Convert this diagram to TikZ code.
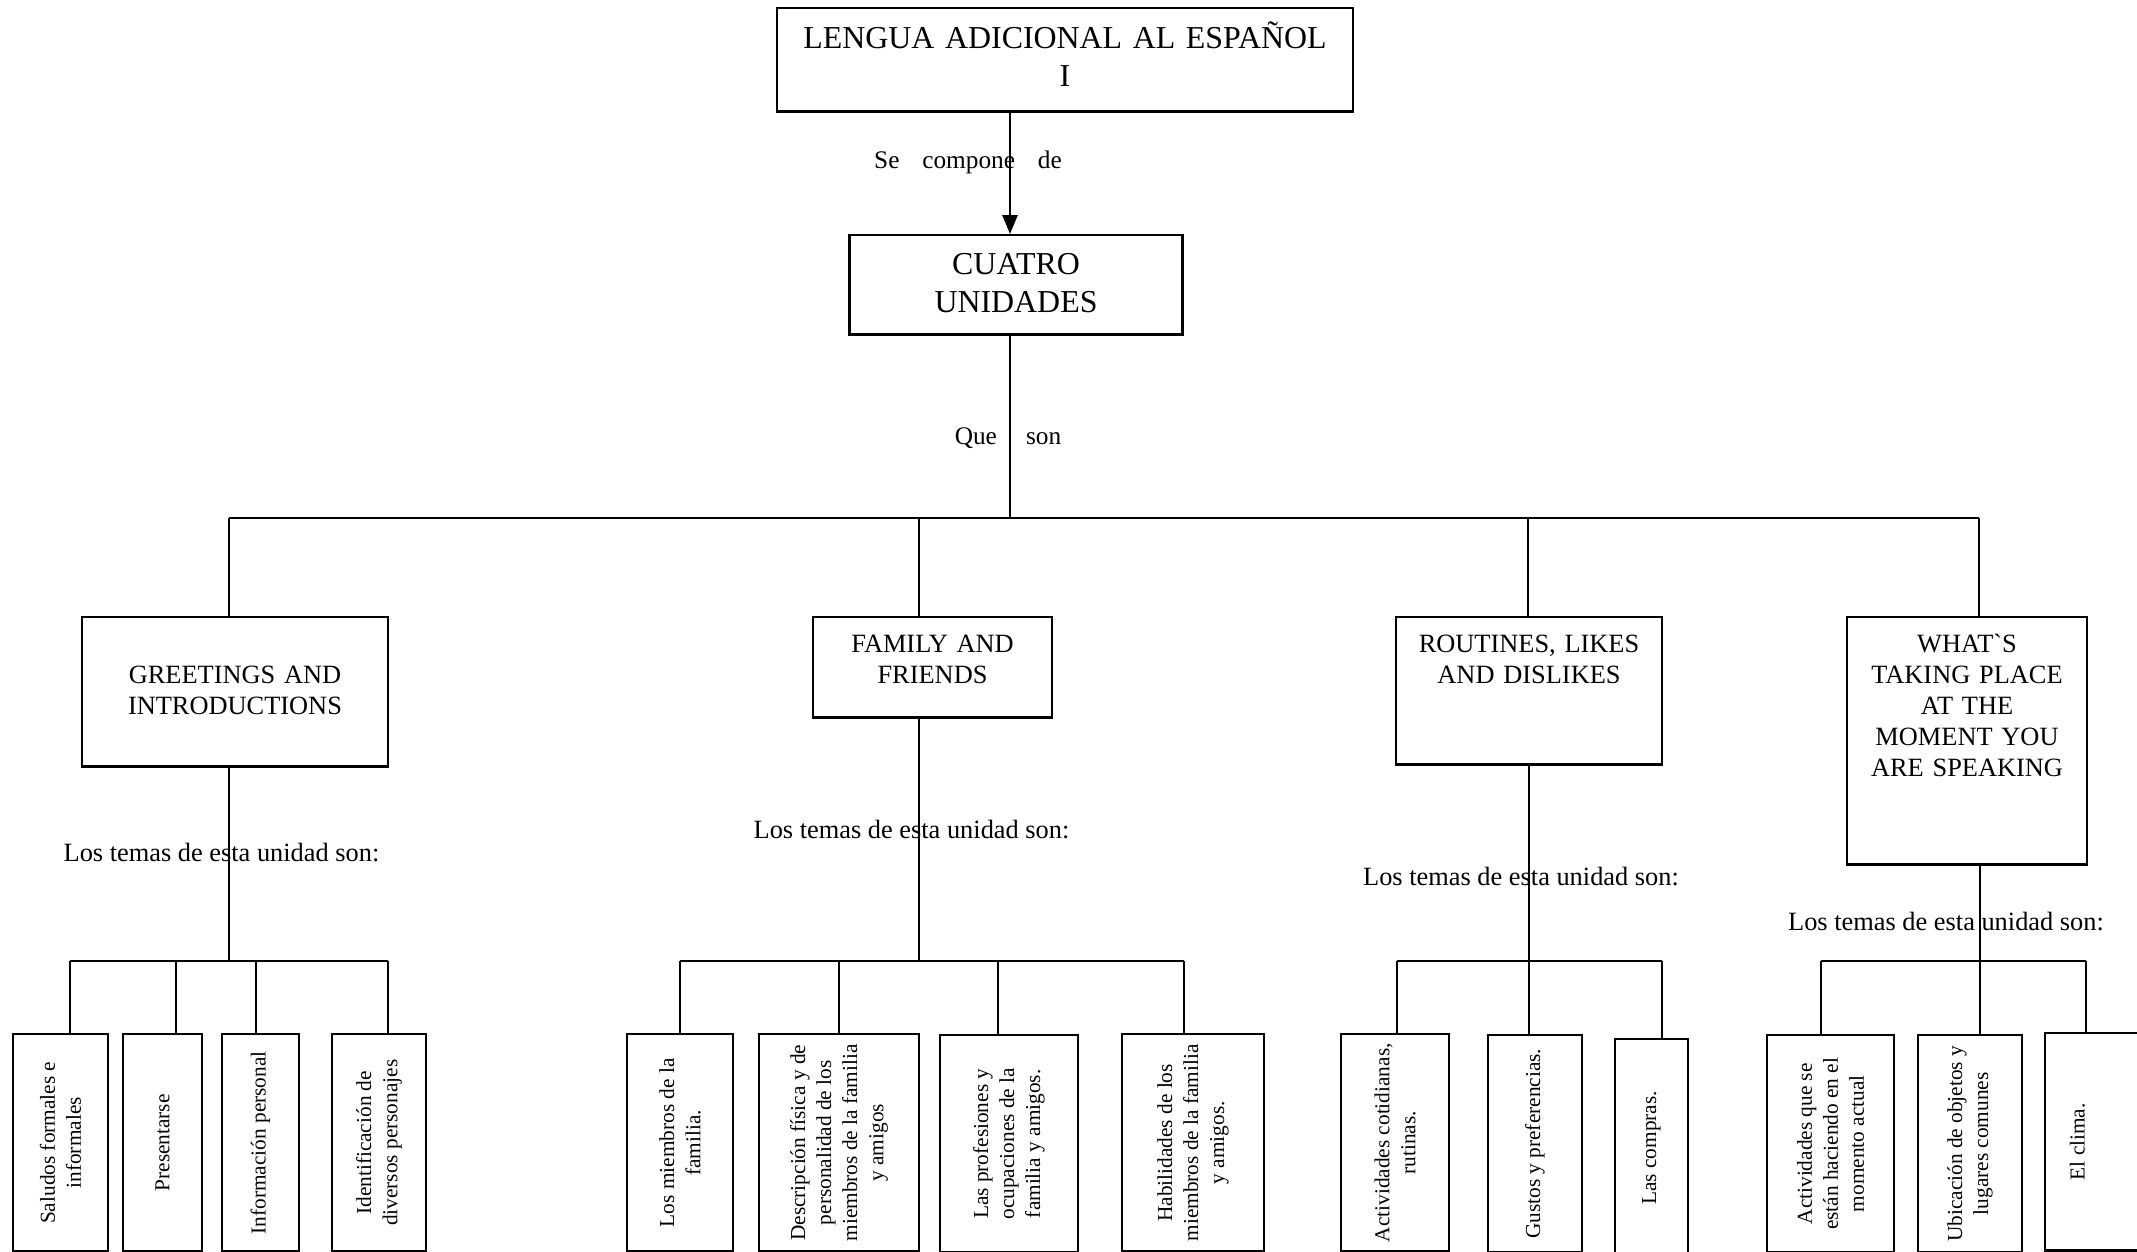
\documentclass[tikz,border=0pt]{standalone}
\usepackage{fontspec}
\setmainfont{Liberation Serif}
\usetikzlibrary{arrows.meta, positioning}

\tikzset{
  link/.style={line width=0.7pt},
  topbox/.style={draw, line width=0.7pt, inner sep=0pt, anchor=north, align=center, font=\fontsize{9.07}{10.8}\selectfont},
  unitbox/.style={draw, line width=0.7pt, inner sep=0pt, anchor=north, align=center, font=\fontsize{7.5}{8.76}\selectfont},
  topic/.style={draw, line width=0.7pt, inner sep=0pt, rotate=90, anchor=east, align=center, minimum width=2.17cm, font=\fontsize{6.06}{7.4}\selectfont},
  linklabel/.style={inner sep=0pt, font=\fontsize{7.2}{8.6}\selectfont},
  temas/.style={inner sep=0pt, font=\fontsize{7.5}{9}\selectfont}
}

\begin{document}
\begin{tikzpicture}[x=0.01cm, y=-0.01cm]
  \useasboundingbox (0,0) rectangle (2137,1252);

  % Title
  \node[topbox, text width=5.76cm, text height=0.405cm, text depth=0.625cm] (titulo) at (1065,7) {LENGUA ADICIONAL AL ESPAÑOL\\I};
  \node[topbox, text width=3.33cm, text height=0.395cm, text depth=0.595cm] (cuatro) at (1016,234) {CUATRO\\UNIDADES};

  \coordinate (hub) at (1010,518);
  \draw[link, -{Triangle[length=5.4pt, width=4.3pt]}] (titulo.south -| hub) -- (cuatro.north -| hub);
  \node[linklabel] (compone) at (968,162) {Se\hspace{0.9em}compone\hspace{0.9em}de};
  \draw[link] (cuatro.south -| hub) -- (hub);
  \node[linklabel] (queson) at (1008,438) {Que\hspace{1.15em}son};

  % Units
  \coordinate (t1) at (229,518);
  \coordinate (t2) at (919,518);
  \coordinate (t3) at (1528,518);
  \coordinate (t4) at (1979,518);
  \draw[link] (t1) -- (t4);

  \node[unitbox, text width=3.06cm, text height=0.666cm, text depth=0.824cm] (greet) at (235,616) {GREETINGS AND\\INTRODUCTIONS};
  \node[unitbox, text width=2.39cm, text height=0.356cm, text depth=0.644cm] (family) at (932.5,616) {FAMILY AND\\FRIENDS};
  \node[unitbox, text width=2.66cm, text height=0.356cm, text depth=1.114cm] (routines) at (1529,616) {ROUTINES, LIKES\\AND DISLIKES};
  \node[unitbox, text width=2.40cm, text height=0.356cm, text depth=2.114cm] (whats) at (1967,616) {WHAT\textasciigrave S\\TAKING PLACE\\AT THE\\MOMENT YOU\\ARE SPEAKING};

  \foreach \t/\u in {t1/greet, t2/family, t3/routines, t4/whats}
    \draw[link] (\t) -- (\t |- \u.north);

  % Los temas de esta unidad
  \node[temas] (tgreet) at (221.5,853) {Los temas de esta unidad son:};
  \node[temas] (tfamily) at (911.5,830) {Los temas de esta unidad son:};
  \node[temas] (troutines) at (1521,877) {Los temas de esta unidad son:};
  \node[temas] (twhats) at (1946,922) {Los temas de esta unidad son:};

  % Junctions
  \coordinate (gj) at (229,961);
  \coordinate (g1) at (70,961);
  \coordinate (g2) at (176,961);
  \coordinate (g3) at (256,961);
  \coordinate (g4) at (388,961);
  \coordinate (fj) at (919,961);
  \coordinate (f1) at (680,961);
  \coordinate (f2) at (839,961);
  \coordinate (f3) at (998,961);
  \coordinate (f4) at (1184,961);
  \coordinate (rj) at (1529,961);
  \coordinate (r1) at (1397,961);
  \coordinate (r2) at (1529,961);
  \coordinate (r3) at (1662,961);
  \coordinate (wj) at (1980,961);
  \coordinate (w1) at (1821,961);
  \coordinate (w2) at (1980,961);
  \coordinate (w3) at (2086,961);

  \draw[link] (greet.south -| gj) -- (gj);
  \draw[link] (family.south -| fj) -- (fj);
  \draw[link] (routines.south -| rj) -- (rj);
  \draw[link] (whats.south -| wj) -- (wj);
  \draw[link] (g1) -- (g4);
  \draw[link] (f1) -- (f4);
  \draw[link] (r1) -- (r3);
  \draw[link] (w1) -- (w3);

  % Topics
  \node[topic, minimum height=0.95cm] (sg1) at (60.5,1033) {Saludos formales e\\informales};
  \node[topic, minimum height=0.79cm] (sg2) at (162.5,1033) {Presentarse};
  \node[topic, minimum height=0.77cm] (sg3) at (260.5,1033) {Información personal};
  \node[topic, minimum height=0.94cm] (sg4) at (379,1033) {Identificación de\\diversos personajes};

  \node[topic, minimum height=1.06cm] (sf1) at (680,1033) {Los miembros de la\\familia.};
  \node[topic, minimum height=1.60cm] (sf2) at (839,1033) {Descripción física y de\\personalidad de los\\miembros de la familia\\y amigos};
  \node[topic, minimum height=1.38cm] (sf3) at (1009,1034) {Las profesiones y\\ocupaciones de la\\familia y amigos.};
  \node[topic, minimum height=1.42cm] (sf4) at (1193,1033) {Habilidades de los\\miembros de la familia\\y amigos.};

  \node[topic, minimum height=1.08cm] (sr1) at (1395,1033) {Actividades cotidianas,\\rutinas.};
  \node[topic, minimum height=0.94cm] (sr2) at (1535,1034) {Gustos y preferencias.};
  \node[topic, minimum height=0.73cm] (sr3) at (1651.5,1038) {Las compras.};

  \node[topic, minimum height=1.27cm] (sw1) at (1830.5,1034) {Actividades que se\\están haciendo en el\\momento actual};
  \node[topic, minimum height=1.04cm] (sw2) at (1970,1034) {Ubicación de objetos y\\lugares comunes};
  \node[topic, minimum height=1.00cm, text height=0.15cm, text depth=0.36cm] (sw3) at (2095,1032) {El clima.};

  \foreach \j/\s in {g1/sg1, g2/sg2, g3/sg3, g4/sg4, f1/sf1, f2/sf2, f3/sf3, f4/sf4, r1/sr1, r2/sr2, r3/sr3, w1/sw1, w2/sw2, w3/sw3}
    \draw[link] (\j) -- (\j |- \s.east);
\end{tikzpicture}
\end{document}
